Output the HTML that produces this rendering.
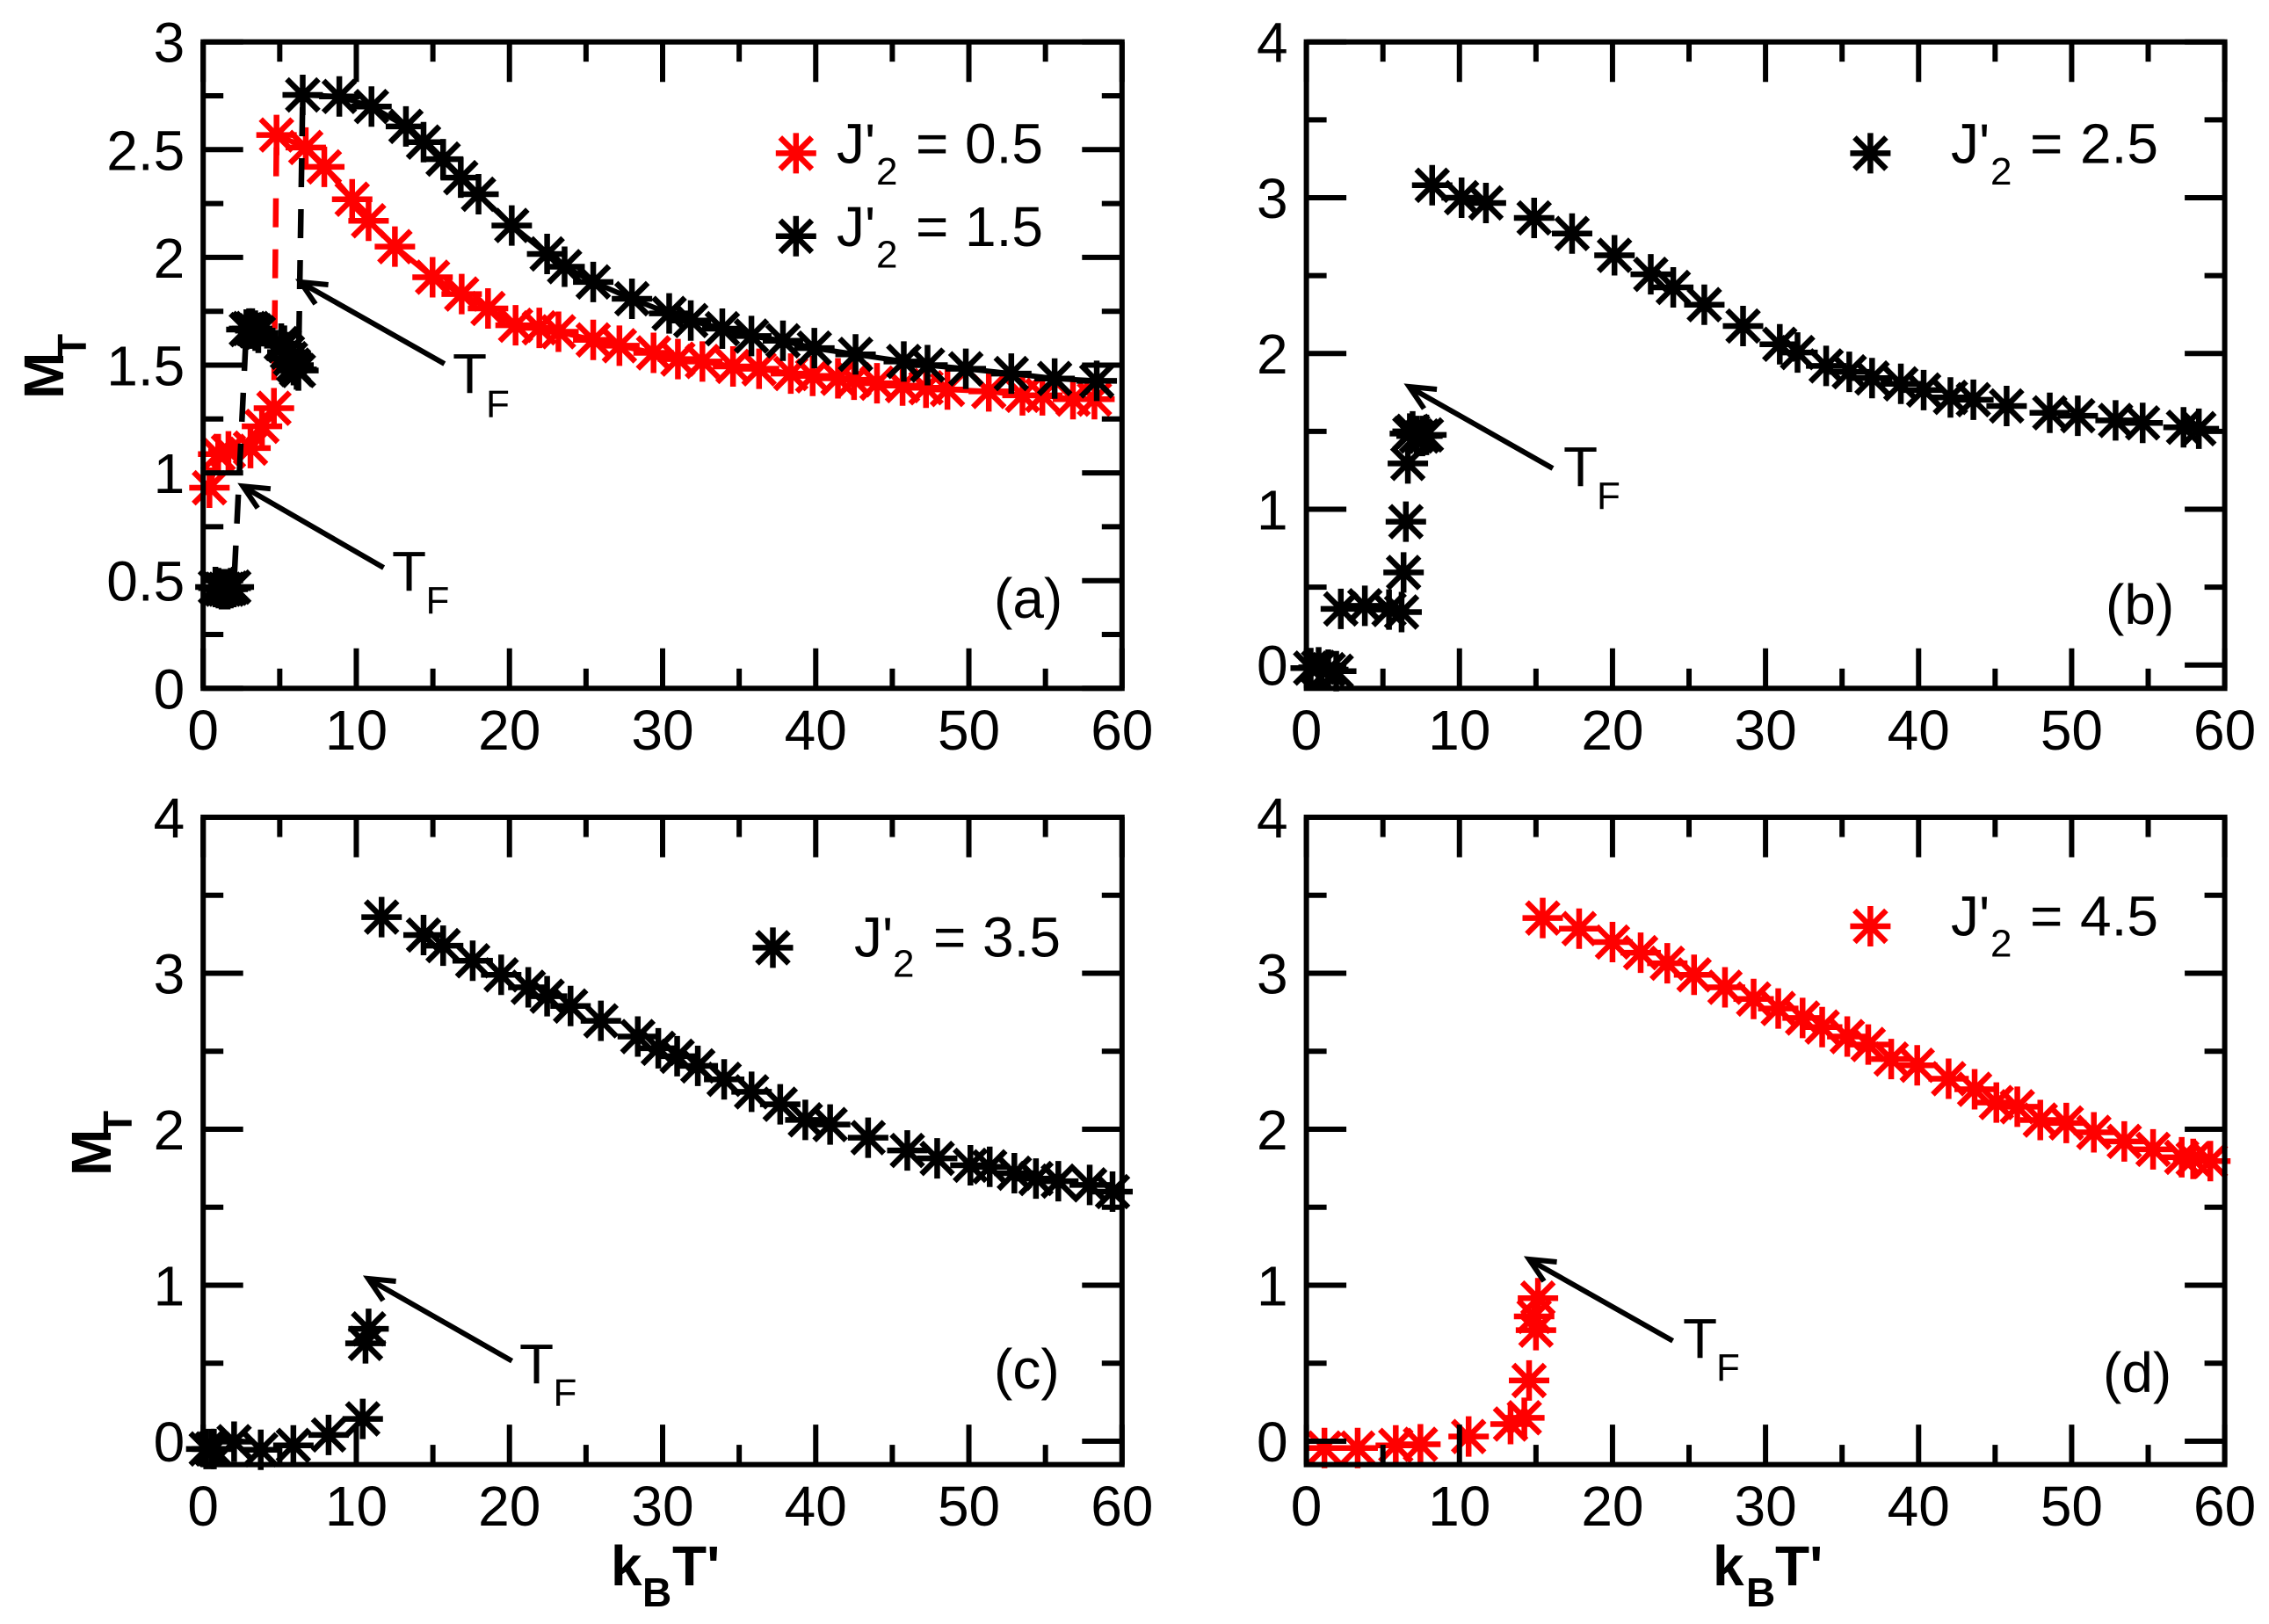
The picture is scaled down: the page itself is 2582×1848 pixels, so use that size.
<!DOCTYPE html>
<html lang="en">
<head>
<meta charset="utf-8">
<title>Magnetization versus temperature</title>
<style>
html,body{margin:0;padding:0;background:#fff;}
svg{display:block;font-family:"Liberation Sans",sans-serif;fill:#000;}
.bold{font-weight:bold;}
</style>
</head>
<body>
<svg id="figure" xmlns="http://www.w3.org/2000/svg" width="2582" height="1848" viewBox="0 0 2582 1848">
<rect x="0" y="0" width="2582" height="1848" fill="#fff"/>
<g id="marks"></g>
<g id="axes"></g>
<g id="notes"></g>

<g>
<text class="bold" transform="translate(72,454) rotate(-90)" font-size="64">M</text>
<text class="bold" transform="translate(98,408) rotate(-90)" font-size="46">T</text>
</g>
<g>
<text class="bold" transform="translate(126,1338) rotate(-90)" font-size="64">M</text>
<text class="bold" transform="translate(150,1292) rotate(-90)" font-size="46">T</text>
</g>
<g>
<text class="bold" x="695" y="1804" font-size="64">k</text>
<text class="bold" x="731" y="1828" font-size="46">B</text>
<text class="bold" x="765" y="1804" font-size="64">T'</text>
</g>
<g>
<text class="bold" x="1949" y="1804" font-size="64">k</text>
<text class="bold" x="1987" y="1828" font-size="46">B</text>
<text class="bold" x="2020" y="1804" font-size="64">T'</text>
</g>

<g>
<path fill="none" stroke="#f00" stroke-width="6.5" d="M882.800 174.400H928.800M905.800 151.400V197.400M887.800 156.400L923.800 192.400M887.800 192.400L923.800 156.400"/>
<text x="952" y="185.400" font-size="64">J'</text>
<text x="997" y="210" font-size="44">2</text>
<text x="1042" y="185.400" font-size="64">=</text>
<text x="1187" y="185.400" font-size="64" text-anchor="end">0.5</text>
</g>
<g>
<path fill="none" stroke="#000" stroke-width="6.5" d="M882.800 268.800H928.800M905.800 245.800V291.800M887.800 250.800L923.800 286.800M887.800 286.800L923.800 250.800"/>
<text x="952" y="279.800" font-size="64">J'</text>
<text x="997" y="304.400" font-size="44">2</text>
<text x="1042" y="279.800" font-size="64">=</text>
<text x="1187" y="279.800" font-size="64" text-anchor="end">1.5</text>
</g>
<g>
<path fill="none" stroke="#000" stroke-width="6.5" d="M2105.400 174.400H2151.400M2128.400 151.400V197.400M2110.400 156.400L2146.400 192.400M2110.400 192.400L2146.400 156.400"/>
<text x="2220" y="185.400" font-size="64">J'</text>
<text x="2265" y="210" font-size="44">2</text>
<text x="2310" y="185.400" font-size="64">=</text>
<text x="2456" y="185.400" font-size="64" text-anchor="end">2.5</text>
</g>
<g>
<path fill="none" stroke="#000" stroke-width="6.5" d="M856.500 1078.400H902.500M879.500 1055.400V1101.400M861.500 1060.400L897.500 1096.400M861.500 1096.400L897.500 1060.400"/>
<text x="972" y="1088.600" font-size="64">J'</text>
<text x="1016" y="1111.600" font-size="44">2</text>
<text x="1062" y="1088.600" font-size="64">=</text>
<text x="1207" y="1088.600" font-size="64" text-anchor="end">3.5</text>
</g>
<g>
<path fill="none" stroke="#f00" stroke-width="6.5" d="M2105.400 1054H2151.400M2128.400 1031V1077M2110.400 1036L2146.400 1072M2110.400 1072L2146.400 1036"/>
<text x="2220" y="1064.400" font-size="64">J'</text>
<text x="2265" y="1088.600" font-size="44">2</text>
<text x="2310" y="1064.400" font-size="64">=</text>
<text x="2456" y="1064.400" font-size="64" text-anchor="end">4.5</text>
</g>

<text x="1131" y="703" font-size="64">(a)</text>
<text x="2396" y="710" font-size="64">(b)</text>
<text x="1131" y="1580" font-size="64">(c)</text>
<text x="2393" y="1584" font-size="64">(d)</text>

<g><text x="515" y="447" font-size="64">T</text><text x="553" y="474.500" font-size="44">F</text></g>
<g><text x="446" y="672" font-size="64">T</text><text x="484.500" y="698" font-size="44">F</text></g>
<g><text x="1779" y="553" font-size="64">T</text><text x="1817" y="579" font-size="44">F</text></g>
<g><text x="591" y="1574" font-size="64">T</text><text x="629.500" y="1599.500" font-size="44">F</text></g>
<g><text x="1915" y="1545" font-size="64">T</text><text x="1953" y="1571" font-size="44">F</text></g>
</svg>

<script>
// Tick values and printed tick labels
const xMajorTicks = [0, 10, 20, 30, 40, 50, 60];
const xMinorTicks = [5, 15, 25, 35, 45, 55];
const yMajorTicksA = [0, 0.5, 1, 1.5, 2, 2.5, 3];
const yLabelsA = ["0", "0.5", "1", "1.5", "2", "2.5", "3"];
const yMinorTicksA = [0.25, 0.75, 1.25, 1.75, 2.25, 2.75];
const yMajorTicksOther = [0, 1, 2, 3, 4];
const yLabelsOther = ["0", "1", "2", "3", "4"];
const yMinorTicksOther = [0.5, 1.5, 2.5, 3.5];

// Panel (a), J'2 = 0.5
const aRedLowX = [0.41, 0.98, 1.65, 3.09, 3.84, 4.62];
const aRedLowY = [0.931, 1.087, 1.10, 1.115, 1.216, 1.30];
const aRedHighX = [4.79, 6.7, 7.91, 9.73, 10.8, 12.52, 14.98, 16.88, 18.6, 20.4, 21.95, 23.2, 25.47, 27.18, 29.41, 31.0, 32.6, 34.6, 36.3, 38.37, 39.8, 41.45, 42.5, 44.0, 45.67, 47.2, 48.6, 51.3, 53.5, 54.8, 56.8, 58.2];
const aRedHighY = [2.568, 2.51, 2.42, 2.27, 2.17, 2.05, 1.908, 1.83, 1.763, 1.685, 1.673, 1.655, 1.617, 1.59, 1.557, 1.528, 1.517, 1.494, 1.483, 1.461, 1.45, 1.439, 1.432, 1.416, 1.405, 1.395, 1.387, 1.378, 1.36, 1.36, 1.342, 1.342];

// Panel (a), J'2 = 1.5
const aBlackLowX = [0.8, 1.0, 1.2, 1.4, 1.6, 1.8, 2.0];
const aBlackLowY = [0.47, 0.465, 0.46, 0.46, 0.46, 0.465, 0.47];
const aBlackMidX = [2.82, 3.0, 3.2, 3.4, 3.6, 5.1, 5.3, 5.5, 5.7, 5.9, 6.1, 6.22];
const aBlackMidY = [1.665, 1.67, 1.67, 1.66, 1.65, 1.6, 1.59, 1.56, 1.53, 1.5, 1.48, 1.475];
const aBlackHighX = [6.5, 8.89, 10.99, 13.24, 14.39, 15.67, 16.82, 17.98, 20.15, 22.46, 23.6, 25.47, 28.0, 30.43, 31.84, 33.9, 35.8, 37.86, 39.91, 42.6, 45.75, 47.3, 49.8, 52.77, 55.6, 58.35];
const aBlackHighY = [2.754, 2.747, 2.70, 2.608, 2.535, 2.456, 2.37, 2.293, 2.148, 2.016, 1.957, 1.886, 1.808, 1.74, 1.707, 1.669, 1.635, 1.613, 1.579, 1.55, 1.517, 1.50, 1.483, 1.461, 1.438, 1.427];

// Panel (b), J'2 = 2.5
const bX = [0.28, 0.8, 1.43, 1.95, 2.25, 3.82, 5.4, 6.22, 6.35, 6.5, 6.63, 6.76, 6.94, 7.2, 7.58, 7.84, 8.22, 10.14, 11.73, 14.88, 17.36, 20.13, 22.5, 23.97, 26.0, 28.53, 30.93, 32.09, 33.96, 35.47, 36.96, 38.84, 40.33, 42.08, 43.58, 45.75, 48.57, 50.4, 52.87, 54.64, 57.31, 58.31];
const bY = [-0.02, -0.015, -0.03, -0.04, 0.36, 0.38, 0.356, 0.34, 0.594, 0.92, 1.294, 1.486, 1.50, 1.47, 1.47, 1.477, 3.08, 3.0, 2.966, 2.87, 2.77, 2.63, 2.508, 2.424, 2.313, 2.176, 2.059, 2.006, 1.92, 1.882, 1.842, 1.805, 1.765, 1.718, 1.703, 1.663, 1.619, 1.60, 1.57, 1.554, 1.526, 1.517];

// Panel (c), J'2 = 3.5
const cX = [0.2, 0.56, 0.7, 2.02, 3.76, 5.89, 8.19, 10.42, 10.6, 10.8, 11.65, 14.39, 15.67, 17.6, 19.46, 21.23, 22.46, 23.99, 25.97, 28.38, 29.72, 30.95, 32.3, 34.02, 35.81, 37.68, 39.32, 40.94, 43.42, 45.98, 47.93, 50.1, 51.36, 52.97, 54.38, 55.84, 57.89, 59.38];
const cY = [-0.05, -0.05, -0.05, -0.003, -0.055, -0.027, 0.04, 0.143, 0.627, 0.72, 3.36, 3.245, 3.177, 3.08, 2.99, 2.91, 2.853, 2.79, 2.695, 2.594, 2.519, 2.468, 2.406, 2.32, 2.24, 2.16, 2.06, 2.03, 1.946, 1.864, 1.813, 1.769, 1.759, 1.718, 1.684, 1.667, 1.643, 1.6];

// Panel (d), J'2 = 4.5
const dX = [1.18, 3.35, 5.84, 7.45, 10.6, 13.34, 14.24, 14.55, 15.0, 14.88, 15.13, 15.44, 17.82, 20.0, 21.84, 23.58, 25.33, 27.35, 29.22, 30.83, 32.42, 33.7, 35.34, 36.71, 38.21, 39.91, 41.96, 43.66, 45.08, 46.45, 47.95, 49.65, 51.45, 53.44, 55.32, 57.19, 57.94, 59.06];
const dY = [-0.044, -0.044, -0.027, -0.02, 0.03, 0.11, 0.15, 0.389, 0.712, 0.8, 0.917, 3.354, 3.286, 3.2, 3.132, 3.064, 2.99, 2.91, 2.835, 2.774, 2.713, 2.655, 2.594, 2.543, 2.45, 2.41, 2.324, 2.256, 2.171, 2.144, 2.059, 2.04, 1.98, 1.922, 1.871, 1.82, 1.81, 1.796];

const NS = 'http://www.w3.org/2000/svg';
const marksLayer = document.getElementById('marks');
const axesLayer = document.getElementById('axes');
const notesLayer = document.getElementById('notes');

function make(tag, attrs, parent) {
  const el = document.createElementNS(NS, tag);
  for (const k in attrs) el.setAttribute(k, attrs[k]);
  parent.appendChild(el);
  return el;
}

function makePanel(left, right, top, bottom, yMin, yMax) {
  return {
    left, right, top, bottom,
    sx: v => left + (v / 60) * (right - left),
    sy: v => bottom - ((v - yMin) / (yMax - yMin)) * (bottom - top)
  };
}

const panelA = makePanel(231.2, 1276.8, 47.7, 783.3, 0, 3);
const panelB = makePanel(1486.6, 2531.6, 47.7, 783.3, -0.15, 4);
const panelC = makePanel(231.2, 1276.8, 930, 1666.6, -0.15, 4);
const panelD = makePanel(1486.6, 2531.6, 930, 1666.6, -0.15, 4);

function drawStars(p, xs, ys, color, name) {
  const g = make('g', {fill: 'none', stroke: color, 'stroke-width': 6.5}, marksLayer);
  
  
  xs.forEach((xv, i) => {
    const cx = p.sx(xv), cy = p.sy(ys[i]);
    const star = make('path', {
      d: `M${cx - 23} ${cy}H${cx + 23}M${cx} ${cy - 23}V${cy + 23}M${cx - 18} ${cy - 18}L${cx + 18} ${cy + 18}M${cx - 18} ${cy + 18}L${cx + 18} ${cy - 18}`
    }, g);
    
    
  });
}

function drawLine(p, xs, ys, color, name) {
  const pts = xs.map((xv, i) => p.sx(xv) + ',' + p.sy(ys[i])).join(' ');
  const line = make('polyline', {points: pts, fill: 'none', stroke: color, 'stroke-width': 6}, marksLayer);
  
  
}

function drawJump(p, x1, y1, x2, y2, color, name) {
  const line = make('line', {
    x1: p.sx(x2), y1: p.sy(y2), x2: p.sx(x1), y2: p.sy(y1),
    stroke: color, 'stroke-width': 6.5, 'stroke-dasharray': '33 25', 'stroke-dashoffset': -14
  }, marksLayer);
  
  
}

function drawAxes(p, yMajor, yLabels, yMinor, name) {
  const g = make('g', {stroke: '#000', 'stroke-width': 6, fill: 'none'}, axesLayer);
  
  
  const labels = make('g', {'font-size': 64, fill: '#000'}, axesLayer);
  
  

  const tick = (x1, y1, x2, y2, kind) => {
    const t = make('line', {x1, y1, x2, y2}, g);
    
    
  };
  const xBase = p.bottom + 69.500;
  xMajorTicks.forEach(v => {
    tick(p.sx(v), p.bottom, p.sx(v), p.bottom - 45.5, 'x-major');
    tick(p.sx(v), p.top, p.sx(v), p.top + 45.5, 'x-major');
    const label = make('text', {x: p.sx(v), y: xBase, 'text-anchor': 'middle'}, labels);
    label.textContent = String(v);
    
    
  });
  xMinorTicks.forEach(v => {
    tick(p.sx(v), p.bottom, p.sx(v), p.bottom - 22.5, 'x-minor');
    tick(p.sx(v), p.top, p.sx(v), p.top + 22.5, 'x-minor');
  });
  yMajor.forEach((v, i) => {
    tick(p.left, p.sy(v), p.left + 45.5, p.sy(v), 'y-major');
    tick(p.right, p.sy(v), p.right - 45.5, p.sy(v), 'y-major');
    const label = make('text', {x: p.left - 21, y: p.sy(v) + 23, 'text-anchor': 'end'}, labels);
    label.textContent = yLabels[i];
    
    
  });
  yMinor.forEach(v => {
    tick(p.left, p.sy(v), p.left + 23, p.sy(v), 'y-minor');
    tick(p.right, p.sy(v), p.right - 23, p.sy(v), 'y-minor');
  });
  const frame = make('rect', {x: p.left, y: p.top, width: p.right - p.left, height: p.bottom - p.top}, g);
  
  
}

function drawArrow(tipX, tipY, tailX, tailY, name) {
  const g = make('g', {stroke: '#000', 'stroke-width': 6, fill: 'none'}, notesLayer);
  
  
  make('line', {x1: tailX, y1: tailY, x2: tipX + 3, y2: tipY + 2}, g);
  make('polyline', {points: `${tipX + 31.6},${tipY + 3} ${tipX},${tipY} ${tipX + 17},${tipY + 25}`}, g);
}

// Panel (a) marks
drawJump(panelA, aRedLowX[5], aRedLowY[5], aRedHighX[0], aRedHighY[0], '#f00', 'transition-jump-j2-0.5');
drawLine(panelA, aRedLowX, aRedLowY, '#f00', 'series-j2-0.5-low');
drawLine(panelA, aRedHighX, aRedHighY, '#f00', 'series-j2-0.5-high');
drawStars(panelA, aRedLowX, aRedLowY, '#f00', 'series-j2-0.5-low');
drawStars(panelA, aRedHighX, aRedHighY, '#f00', 'series-j2-0.5-high');
drawJump(panelA, aBlackLowX[6], aBlackLowY[6], aBlackMidX[0], aBlackMidY[0], '#000', 'transition-jump-j2-1.5-lower');
drawJump(panelA, aBlackMidX[11], aBlackMidY[11], aBlackHighX[0], aBlackHighY[0], '#000', 'transition-jump-j2-1.5-upper');
drawLine(panelA, aBlackLowX, aBlackLowY, '#000', 'series-j2-1.5-low');
drawLine(panelA, aBlackMidX, aBlackMidY, '#000', 'series-j2-1.5-mid');
drawLine(panelA, aBlackHighX, aBlackHighY, '#000', 'series-j2-1.5-high');
drawStars(panelA, aBlackLowX, aBlackLowY, '#000', 'series-j2-1.5-low');
drawStars(panelA, aBlackMidX, aBlackMidY, '#000', 'series-j2-1.5-mid');
drawStars(panelA, aBlackHighX, aBlackHighY, '#000', 'series-j2-1.5-high');

// Panels (b), (c), (d) marks
drawStars(panelB, bX, bY, '#000', 'series-j2-2.5');
drawStars(panelC, cX, cY, '#000', 'series-j2-3.5');
drawStars(panelD, dX, dY, '#f00', 'series-j2-4.5');

// Axes
drawAxes(panelA, yMajorTicksA, yLabelsA, yMinorTicksA, 'panel-a');
drawAxes(panelB, yMajorTicksOther, yLabelsOther, yMinorTicksOther, 'panel-b');
drawAxes(panelC, yMajorTicksOther, yLabelsOther, yMinorTicksOther, 'panel-c');
drawAxes(panelD, yMajorTicksOther, yLabelsOther, yMinorTicksOther, 'panel-d');

// T_F arrows
drawArrow(342, 321, 505.8, 414, 'tf-arrow-a-upper');
drawArrow(276.3, 553.2, 436.6, 646, 'tf-arrow-a-lower');
drawArrow(1603.5, 440, 1767, 533, 'tf-arrow-b');
drawArrow(419, 1455, 582.6, 1548.7, 'tf-arrow-c');
drawArrow(1740, 1433, 1903.6, 1525.8, 'tf-arrow-d');
</script>
</body>
</html>
